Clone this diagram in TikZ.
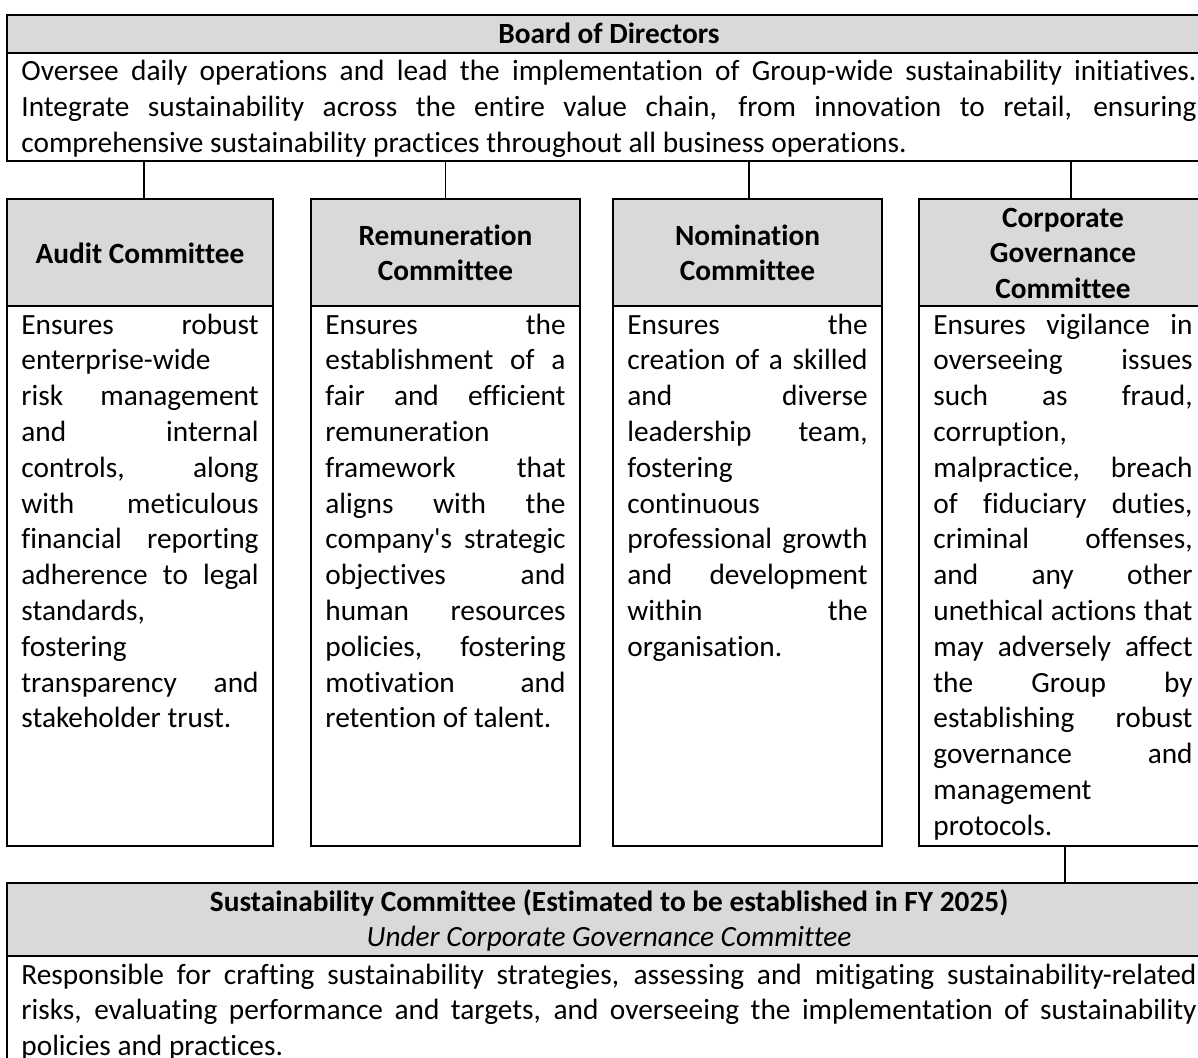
\documentclass[tikz,border=0pt]{standalone}
\usepackage{fontspec}
\setmainfont{Carlito}[Ligatures={TeXOff,CommonOff}]
\usetikzlibrary{fit,calc}
\definecolor{headgray}{HTML}{D9D9D9}
% forced line breaks only: never hyphenate, accept any stretch
\tolerance=10000
\hbadness=10000
\hyphenpenalty=10000
\exhyphenpenalty=10000

\tikzset{
  cell/.style={draw=black, line width=1.5pt, inner sep=0pt},
  headcell/.style={cell, fill=headgray},
  conn/.style={draw=black, line width=1.2pt},
  txt/.style={inner sep=0pt, outer sep=0pt, font=\fontsize{22pt}{26.85pt}\selectfont},
}

\begin{document}
\begin{tikzpicture}[x=0.75pt, y=-0.75pt]
\useasboundingbox (0,0) rectangle (1198,1057);
\clip (0,0) rectangle (1198,1057);

% ---------- Board of Directors ----------
\node[headcell, fit={(7,15) (1211,52.5)}] (boardHead) {};
\node[cell, fit={(7,52.5) (1211,161)}] (boardBody) {};
\node[txt, anchor=base] (boardTitle) at (609,43) {\bfseries Board of Directors};
\node[txt, anchor=base west] (boardText) at (21.4,80.5) {\parbox[t]{881.4pt}{Oversee daily operations and lead the implementation of Group-wide sustainability initiatives.\linebreak
Integrate sustainability across the entire value chain, from innovation to retail, ensuring\linebreak
comprehensive sustainability practices throughout all business operations.}};

% ---------- Committees ----------
\node[headcell, fit={(7,199) (273,306)}] (auditHead) {};
\node[cell, fit={(7,306) (273,846)}] (auditBody) {};
\node[headcell, fit={(311,199) (580,306)}] (remHead) {};
\node[cell, fit={(311,306) (580,846)}] (remBody) {};
\node[headcell, fit={(613,199) (882,306)}] (nomHead) {};
\node[cell, fit={(613,306) (882,846)}] (nomBody) {};
\node[headcell, fit={(919,199) (1207,306)}] (cgHead) {};
\node[cell, fit={(919,306) (1207,846)}] (cgBody) {};

\node[txt, anchor=base] (auditTitle) at (140,263) {\bfseries Audit Committee};
\node[txt, anchor=base] (remTitle) at (445.5,245) {\parbox[t]{180pt}{\centering\bfseries Remuneration\\Committee}};
\node[txt, anchor=base] (nomTitle) at (747.5,245) {\parbox[t]{180pt}{\centering\bfseries Nomination\\Committee}};
\node[txt, anchor=base] (cgTitle) at (1063,227) {\parbox[t]{194pt}{\centering\bfseries Corporate\\Governance\\Committee}};

\node[txt, anchor=base west] (auditText) at (21.4,334) {\parbox[t]{177.9pt}{Ensures robust\linebreak
enterprise-wide\newline
risk management\linebreak
and internal\linebreak
controls, along\linebreak
with meticulous\linebreak
financial reporting\linebreak
adherence to legal\linebreak
standards,\newline
fostering\newline
transparency and\linebreak
stakeholder trust.}};

\node[txt, anchor=base west] (remText) at (325.4,334) {\parbox[t]{180.15pt}{Ensures the\linebreak
establishment of a\linebreak
fair and efficient\linebreak
remuneration\newline
framework that\linebreak
aligns with the\linebreak
company's strategic\linebreak
objectives and\linebreak
human resources\linebreak
policies, fostering\linebreak
motivation and\linebreak
retention of talent.}};

\node[txt, anchor=base west] (nomText) at (627.4,334) {\parbox[t]{180.15pt}{Ensures the\linebreak
creation of a skilled\linebreak
and diverse\linebreak
leadership team,\linebreak
fostering\newline
continuous\newline
professional growth\linebreak
and development\linebreak
within the\linebreak
organisation.}};

\node[txt, anchor=base west] (cgText) at (933.4,334) {\parbox[t]{194.4pt}{Ensures vigilance in\linebreak
overseeing issues\linebreak
such as fraud,\linebreak
corruption,\newline
malpractice, breach\linebreak
of fiduciary duties,\linebreak
criminal offenses,\linebreak
and any other\linebreak
unethical actions that\linebreak
may adversely affect\linebreak
the Group by\linebreak
establishing robust\linebreak
governance and\linebreak
management\newline
protocols.}};

% ---------- Sustainability Committee ----------
\node[headcell, fit={(7,883) (1211,956)}] (sustHead) {};
\node[cell, fit={(7,956) (1211,1085)}] (sustBody) {};
\node[txt, anchor=base] (sustTitle) at (609,911) {\parbox[t]{881.4pt}{\centering\textbf{Sustainability Committee (Estimated to be established in FY 2025)}\\
\textit{Under Corporate Governance Committee}}};
\node[txt, anchor=base west] (sustText) at (21.4,984) {\parbox[t]{881.4pt}{Responsible for crafting sustainability strategies, assessing and mitigating sustainability-related\linebreak
risks, evaluating performance and targets, and overseeing the implementation of sustainability\linebreak
policies and practices.}};

% ---------- connectors ----------
\coordinate (auditTop) at ($(auditHead.north)+(4,0)$);
\coordinate (remTop) at (remHead.north);
\coordinate (nomTop) at ($(nomHead.north)+(1.5,0)$);
\coordinate (cgTop) at ($(cgHead.north)+(8,0)$);
\coordinate (cgFoot) at ($(cgBody.south)+(2,0)$);
\draw[conn] (auditTop |- boardBody.south) -- (auditTop);
\draw[conn] (remTop |- boardBody.south) -- (remTop);
\draw[conn] (nomTop |- boardBody.south) -- (nomTop);
\draw[conn] (cgTop |- boardBody.south) -- (cgTop);
\draw[conn] (cgFoot) -- (cgFoot |- sustHead.north);
\end{tikzpicture}
\end{document}
